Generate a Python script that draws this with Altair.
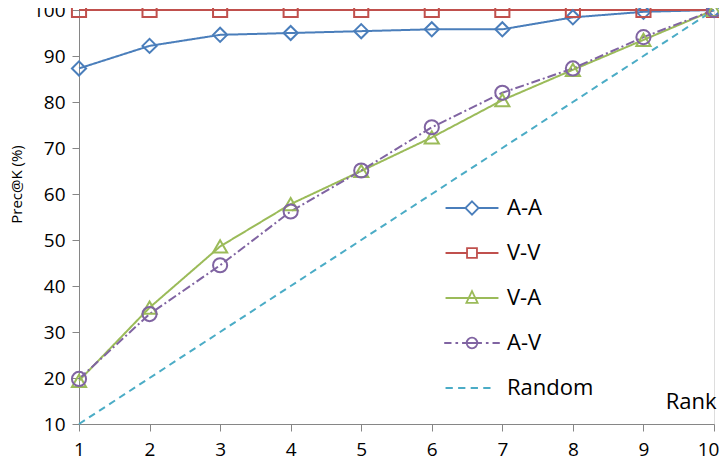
import altair as alt
import pandas as pd

ranks = [1, 2, 3, 4, 5, 6, 7, 8, 9, 10]
series_names = ["A-A", "V-V", "V-A", "A-V", "Random"]
aa = [87.3, 92.2, 94.6, 95.0, 95.4, 95.8, 95.8, 98.4, 99.6, 100.0]
vv = [100, 100, 100, 100, 100, 100, 100, 100, 100, 100]
va = [19.4, 35.3, 48.6, 57.8, 65.0, 72.3, 80.4, 87.0, 93.5, 100.0]
av = [19.8, 33.9, 44.5, 56.2, 65.1, 74.5, 82.0, 87.3, 94.1, 100.0]
rnd = [10, 20, 30, 40, 50, 60, 70, 80, 90, 100]
colors = ["#4A7EBB", "#C0504D", "#9BBB59", "#8064A2", "#4BACC6"]
dashes = [[1, 0], [1, 0], [1, 0], [9, 3, 2, 3], [7, 5]]
point_shapes = ["diamond", "square", "triangle-up", "circle"]
legend_paths = [
    "M-4,0H-1M1,0H4M0,-1L1,0L0,1L-1,0Z",
    "M-4,0H-0.75M0.75,0H4M-0.75,-0.75H0.75V0.75H-0.75Z",
    "M-4,0H4M0,-1.05L0.85,0.75H-0.85Z",
    "M-4.2,0H-3.1M-2.5,0H-2.1M-1.5,0H1.5M-0.8,0A0.8,0.8 0 1,0 0.8,0A0.8,0.8 0 1,0 -0.8,0ZM2.1,0H2.5M3.1,0H4.2",
    "M-4,0H-2.9M-2.1,0H-1M-0.2,0H0.9M1.7,0H2.8",
]

values = {"A-A": aa, "V-V": vv, "V-A": va, "A-V": av, "Random": rnd}
rows = []
for s in series_names:
    for r, v in zip(ranks, values[s]):
        rows.append({"rank": r, "value": v, "series": s, "entry": s})
df = pd.DataFrame(rows)
pts = df[df["series"] != "Random"]

FONT = "Open Sans"

x_enc = alt.X("rank:Q", scale=alt.Scale(domain=[1, 10], nice=False, zero=False),
              axis=alt.Axis(values=ranks, format="d", title="Rank", grid=False,
                            domainColor="#868686", tickColor="#868686", tickSize=7,
                            labelPadding=9, labelFontSize=19, labelFont=FONT,
                            labelColor="black", titleFont=FONT, titleFontSize=22,
                            titleFontWeight="normal", titleColor="black", titleAnchor="end",
                            titleAlign="right", titleBaseline="alphabetic", titleX=637,
                            titleY=-16, labelFlush=False,
                            labelOffset={"condition": {"test": "datum.value == 10", "value": -6},
                                         "value": 0}))
y_enc = alt.Y("value:Q", scale=alt.Scale(domain=[10, 100], nice=False, zero=False),
              axis=alt.Axis(values=list(range(10, 101, 10)), format="d", title="Prec@K (%)",
                            grid=False, domainColor="#868686", tickColor="#868686", tickSize=7,
                            labelPadding=7, labelFontSize=19, labelFont=FONT,
                            labelColor="black", titleFont=FONT, titleFontSize=15,
                            titleFontWeight="normal", titleColor="black", titleAngle=-90,
                            titleX=-63, titleY=174, titleAlign="center",
                            titleBaseline="middle"))
color_scale = alt.Scale(domain=series_names, range=colors)

lines = alt.Chart(df).mark_line(strokeWidth=2, clip=False).encode(
    x=x_enc, y=y_enc,
    color=alt.Color("series:N", scale=color_scale, legend=None),
    strokeDash=alt.StrokeDash("series:N", scale=alt.Scale(domain=series_names, range=dashes),
                              legend=None),
    detail="series:N",
)

points = alt.Chart(pts).mark_point(filled=False, strokeWidth=2, size=200, opacity=1,
                                   clip=False).encode(
    x="rank:Q", y="value:Q",
    color=alt.Color("series:N", scale=color_scale, legend=None),
    shape=alt.Shape("series:N", scale=alt.Scale(domain=series_names[:4], range=point_shapes),
                    legend=None),
)

leg = alt.Legend(title=None, orient="none", legendX=382, legendY=187, padding=0,
                 symbolSize=175, symbolStrokeWidth=1.8, labelOffset=24, labelFontSize=22,
                 labelFont=FONT, labelColor="black", rowPadding=23, symbolOpacity=1)

legend_layer = alt.Chart(df).mark_point(filled=False, strokeWidth=1.6, opacity=1).encode(
    x="rank:Q", y="value:Q",
    color=alt.Color("entry:N", scale=alt.Scale(domain=series_names, range=colors), legend=leg),
    shape=alt.Shape("entry:N", scale=alt.Scale(domain=series_names, range=legend_paths),
                    legend=leg),
).transform_filter("false")

chart = alt.layer(lines, points, legend_layer).resolve_scale(
    shape="independent", strokeDash="independent", color="independent"
).properties(
    width=635, height=414,
    autosize=alt.AutoSizeParams(type="none"),
    padding={"left": 71, "top": 2, "right": 5, "bottom": 36},
).configure_view(stroke=None).configure(background="white")

chart.save("out.html", embed_options={"renderer": "svg", "actions": False})
